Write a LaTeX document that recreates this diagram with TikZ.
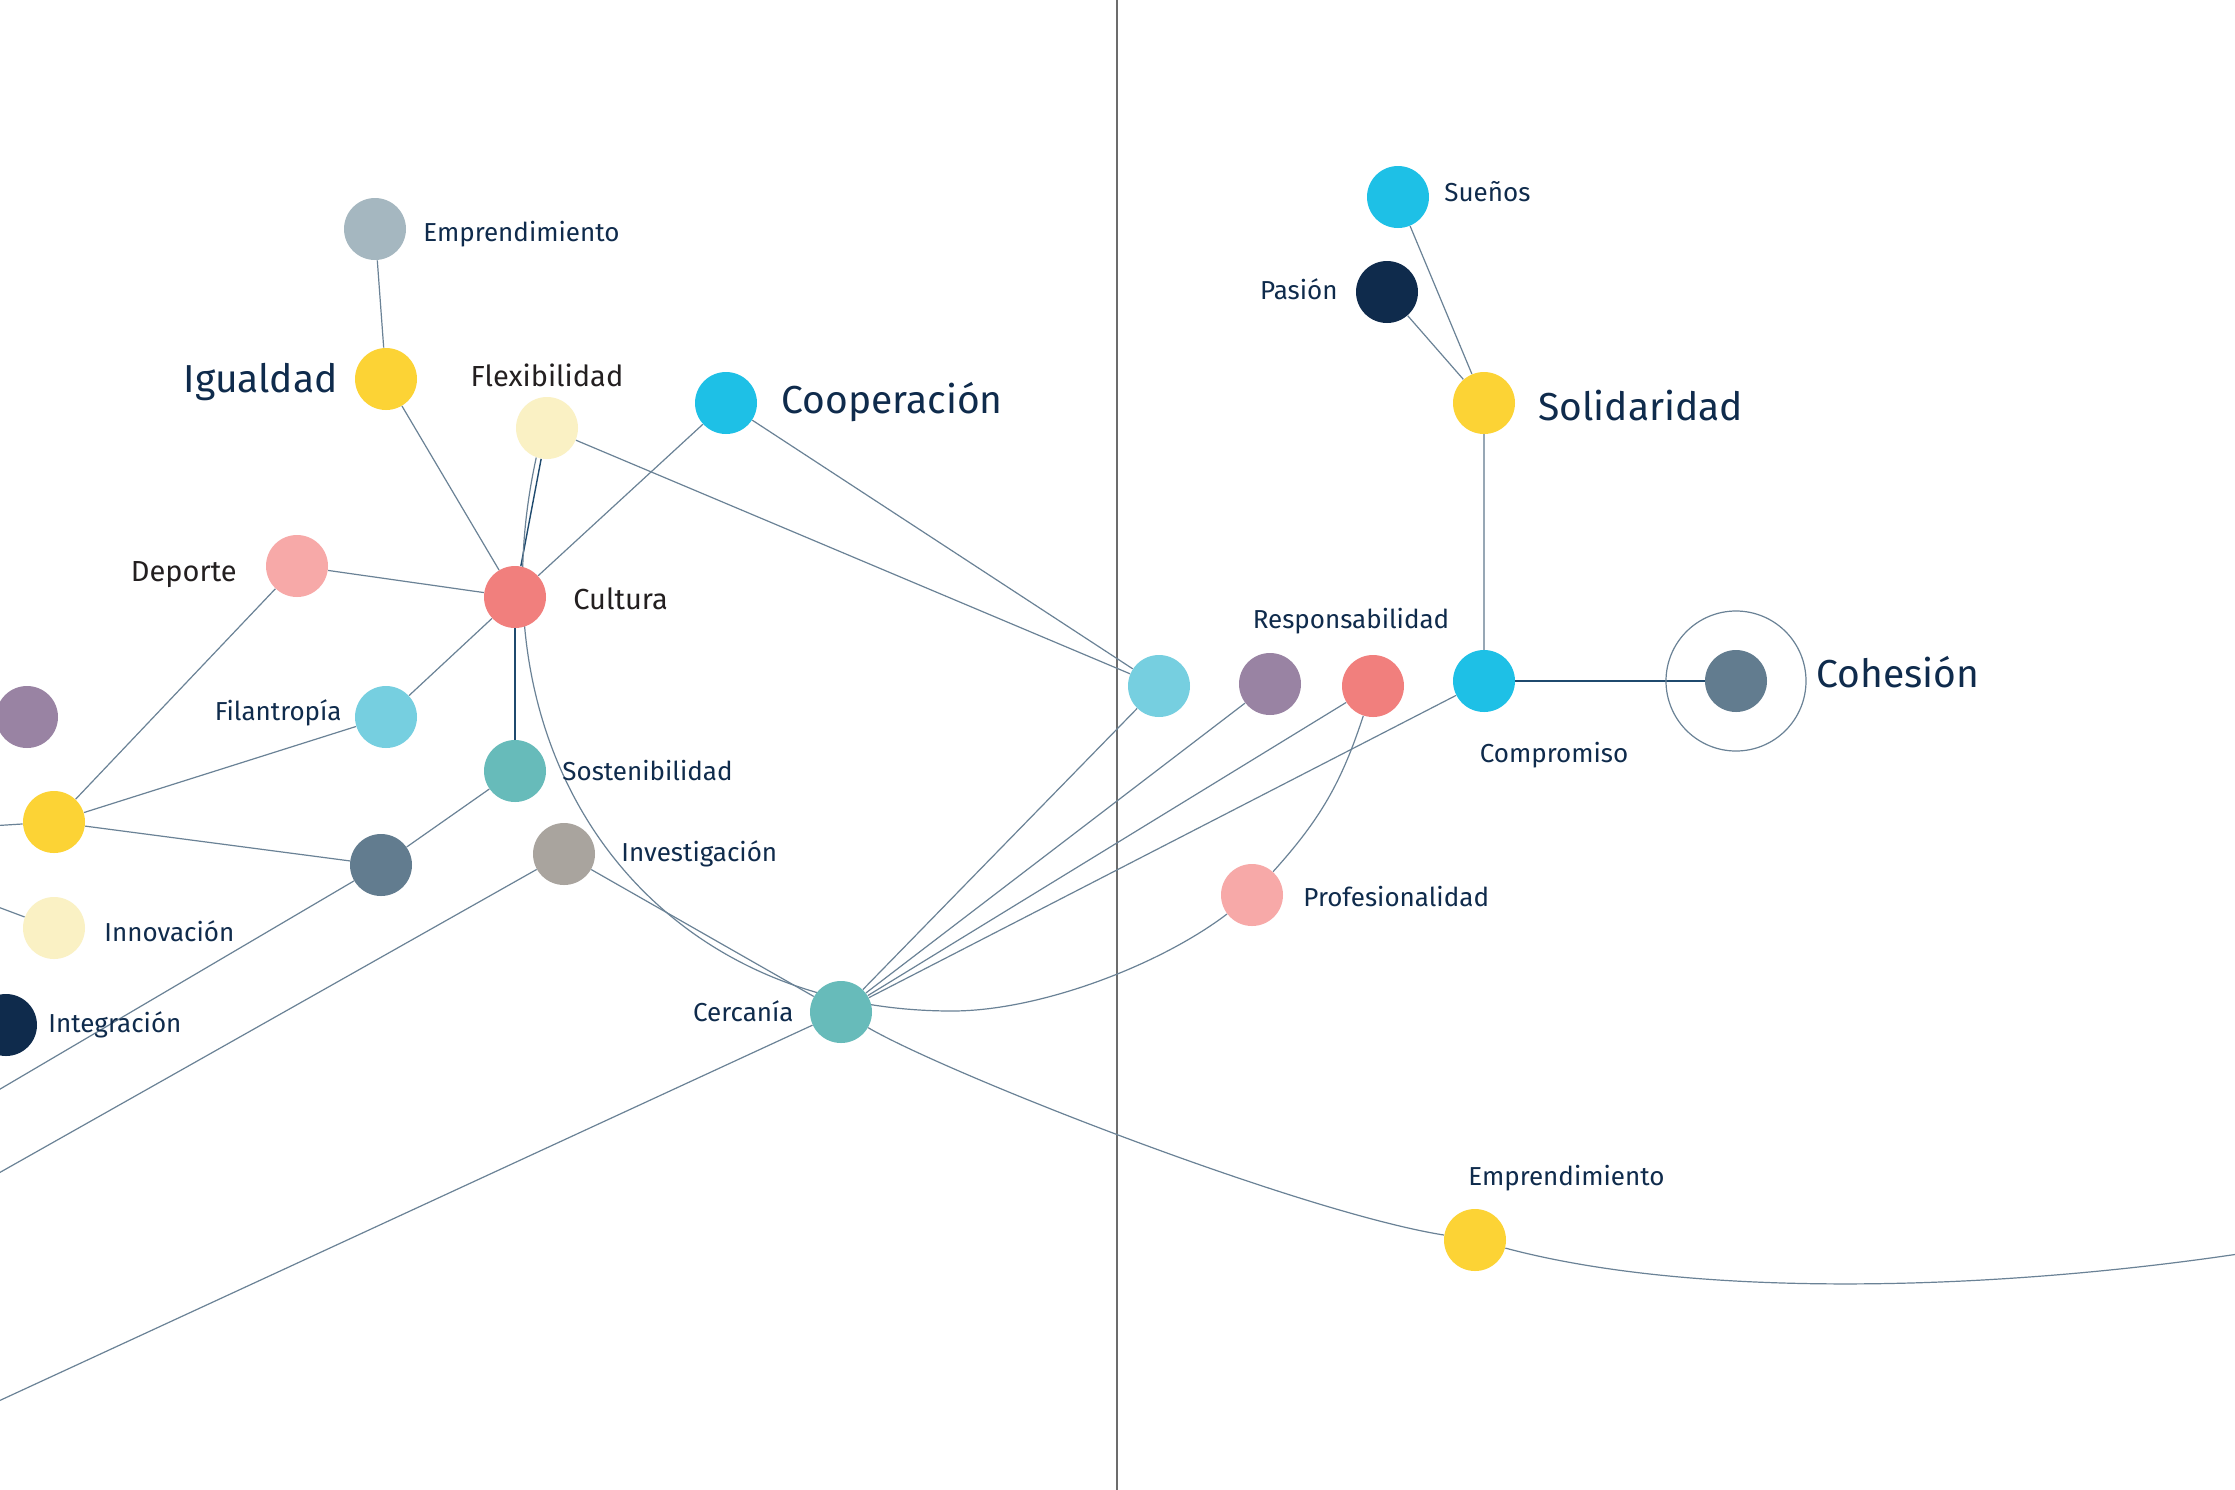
\documentclass[tikz,border=0pt]{standalone}
\usepackage{fontspec}
\setmainfont{Fira Sans}
\definecolor{navy}{HTML}{0F2B4C}
\definecolor{ink}{HTML}{231F20}
\definecolor{linec}{HTML}{6A8296}
\definecolor{darkline}{HTML}{1F4A6E}
\definecolor{cGrayBlue}{HTML}{A5B7C0}
\definecolor{cYellow}{HTML}{FCD335}
\definecolor{cCream}{HTML}{FAF1C4}
\definecolor{cCyan}{HTML}{1EC0E6}
\definecolor{cPink}{HTML}{F7A9A8}
\definecolor{cRed}{HTML}{F17F7D}
\definecolor{cPurple}{HTML}{9983A3}
\definecolor{cLightBlue}{HTML}{76CFE0}
\definecolor{cTeal}{HTML}{67BBBA}
\definecolor{cSlate}{HTML}{627C8F}
\definecolor{cGray}{HTML}{A9A49E}
\definecolor{cNavy}{HTML}{0F2B4C}
\usetikzlibrary{backgrounds}
\begin{document}
\begin{tikzpicture}[x=0.5pt,y=-0.5pt,
  dot/.style={circle, minimum size=31pt, inner sep=0pt, draw=none, fill=#1},
  lbl/.style={font=\fontsize{13}{15}\selectfont, text=navy, inner sep=0pt},
  big/.style={font=\fontsize{19.5}{23}\selectfont, text=navy, inner sep=0pt},
  mid/.style={font=\fontsize{14.5}{17}\selectfont, text=ink, inner sep=0pt},
  link/.style={draw=linec, line width=0.6pt},
  dlink/.style={draw=darkline, line width=0.7pt}]
\clip (0,0) rectangle (2235,1490);

% nodes
\node[dot=cGrayBlue] (emp1) at (375,229) {};
\node[dot=cYellow] (igual) at (386,379) {};
\node[dot=cCream] (flex) at (547,428) {};
\node[dot=cCyan] (coop) at (726,403) {};
\node[dot=cPink] (dep) at (297,566) {};
\node[dot=cRed] (cult) at (515,597) {};
\node[dot=cPurple] (purp1) at (27,717) {};
\node[dot=cLightBlue] (fil) at (386,717) {};
\node[dot=cYellow] (yel1) at (54,822) {};
\node[dot=cTeal] (sost) at (515,771) {};
\node[dot=cSlate] (slate1) at (381,865) {};
\node[dot=cGray] (inv) at (564,854) {};
\node[dot=cCream] (innov) at (54,928) {};
\node[dot=cNavy] (integ) at (6,1025) {};
\node[dot=cTeal] (cerc) at (841,1012) {};
\node[dot=cLightBlue] (lb2) at (1159,686) {};
\node[dot=cPurple] (purp2) at (1270,684) {};
\node[dot=cRed] (red2) at (1373,686) {};
\node[dot=cCyan] (comp) at (1484,681) {};
\node[dot=cSlate] (coh) at (1736,681) {};
\node[dot=cYellow] (sol) at (1484,403) {};
\node[dot=cCyan] (sue) at (1398,197) {};
\node[dot=cNavy] (pas) at (1387,292) {};
\node[dot=cPink] (prof) at (1252,895) {};
\node[dot=cYellow] (emp2) at (1475,1240) {};

% labels
\node[lbl, anchor=mid west] (lemp1) at (423,236) {Emprendimiento};
\node[big, anchor=mid east] (ligual) at (338,387) {Igualdad};
\node[mid, anchor=mid] (lflex) at (547,381) {Flexibilidad};
\node[big, anchor=mid west] (lcoop) at (781,408) {Cooperación};
\node[mid, anchor=mid east] (ldep) at (237,576) {Deporte};
\node[mid, anchor=mid west] (lcult) at (573,604) {Cultura};
\node[lbl, anchor=mid east] (lfil) at (342,715) {Filantropía};
\node[lbl, anchor=mid west] (lsost) at (562,775) {Sostenibilidad};
\node[lbl, anchor=mid west] (linv) at (621,856) {Investigación};
\node[lbl, anchor=mid west] (linnov) at (104,936) {Innovación};
\node[lbl, anchor=mid west] (linteg) at (48,1027) {Integración};
\node[lbl, anchor=mid east] (lcerc) at (794,1016) {Cercanía};
\node[lbl, anchor=mid] (lresp) at (1351,623) {Responsabilidad};
\node[lbl, anchor=mid] (lcomp) at (1554,757) {Compromiso};
\node[big, anchor=mid west] (lcoh) at (1816,682) {Cohesión};
\node[big, anchor=mid west] (lsol) at (1538,415) {Solidaridad};
\node[lbl, anchor=mid west] (lsue) at (1444,196) {Sueños};
\node[lbl, anchor=mid east] (lpas) at (1338,294) {Pasión};
\node[lbl, anchor=mid west] (lprof) at (1303,901) {Profesionalidad};
\node[lbl, anchor=mid west] (lemp2) at (1468,1180) {Emprendimiento};

% off-page coordinates
\coordinate (oyel) at (-10,826);
\coordinate (oinnov) at (-10,904);
\coordinate (oslate) at (-10,1095);
\coordinate (oinv) at (-10,1178);
\coordinate (ocerc) at (-10,1405);
\coordinate (oright) at (2245,1253);
\coordinate (bot) at (952,1011);

\begin{scope}[on background layer]
\fill[white] (0,0) rectangle (2235,1490);
\draw[draw=gray!85!black, line width=0.7pt] (1117,-5) -- (1117,1495);
\draw[link] (emp1) -- (igual);
\draw[link] (igual) -- (cult);
\draw[dlink] (flex) -- (cult);
\draw[link] (flex.250) .. controls (470,760) and (650,1011) .. (bot)
            .. controls (1040,1011) and (1160,965) .. (prof);
\draw[link] (flex) -- (lb2);
\draw[link] (coop) -- (cult);
\draw[link] (coop) -- (lb2);
\draw[link] (dep) -- (cult);
\draw[link] (dep) -- (yel1);
\draw[link] (cult) -- (fil);
\draw[dlink] (cult) -- (sost);
\draw[link] (fil) -- (yel1);
\draw[link] (yel1) -- (slate1);
\draw[link] (yel1) -- (oyel);
\draw[link] (innov) -- (oinnov);
\draw[link] (sost) -- (slate1);
\draw[link] (slate1) -- (oslate);
\draw[link] (inv) -- (oinv);
\draw[link] (inv) -- (cerc);
\draw[link] (cerc) -- (ocerc);
\draw[link] (cerc) -- (lb2);
\draw[link] (cerc) -- (purp2);
\draw[link] (cerc) -- (red2);
\draw[link] (cerc) -- (comp);
\draw[link] (cerc) .. controls (950,1075) and (1300,1212) .. (emp2);
\draw[link] (emp2) .. controls (1700,1300) and (2000,1290) .. (oright);
\draw[link] (prof) to[bend right=12] (red2);
\draw[draw=linec!70, line width=0.9pt] (comp) -- (sol);
\draw[link] (sol) -- (sue);
\draw[link] (sol) -- (pas);
\draw[draw=darkline, line width=0.8pt] (comp) -- (coh);
\draw[link] (coh) circle[radius=70];
\end{scope}
\end{tikzpicture}
\end{document}
